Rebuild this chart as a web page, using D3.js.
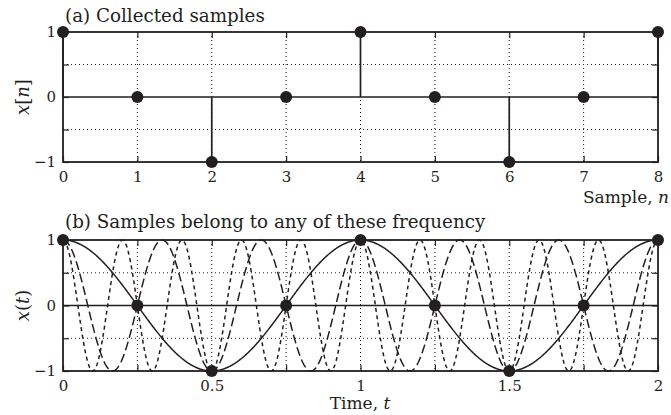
<!DOCTYPE html>
<html>
<head>
<meta charset="utf-8">
<script src="https://cdn.jsdelivr.net/npm/d3@7"></script>
<style>
  html, body { margin: 0; padding: 0; background: #fff; }
  svg { display: block; }
  text { font-family: "DejaVu Serif", "Liberation Serif", serif; fill: #231f20; }
</style>
</head>
<body>
<svg id="chart" width="671" height="415"></svg>
<script>
// Discrete samples x[n] taken at Ts = 0.25 s
const sampleIndex = [0, 1, 2, 3, 4, 5, 6, 7, 8];
const sampleValues = [1, 0, -1, 0, 1, 0, -1, 0, 1];
const sampleTimes = [0, 0.25, 0.5, 0.75, 1, 1.25, 1.5, 1.75, 2];

// Cosines (Hz) that all pass through the same samples, and their line styles
const frequencies = [1, 3, 5];
const dashStyles = [null, "9,4", "4,3.5"];

// Tick values and labels
const topXTicks = [0, 1, 2, 3, 4, 5, 6, 7, 8];
const yTicks = [-1, -0.5, 0, 0.5, 1];
const yTickLabels = { "-1": "\u22121", "0": "0", "1": "1" };
const bottomXTicks = [0, 0.25, 0.5, 0.75, 1, 1.25, 1.5, 1.75, 2];
const bottomXTickLabels = { "0": "0", "0.5": "0.5", "1": "1", "1.5": "1.5", "2": "2" };

const ink = "#231f20";
const svg = d3.select("#chart");
const tickFont = 15;
const titleFont = 18.3;
const labelFont = 18;

function panel(opts) {
  const { x, y, xTicks, xLabelFn, title, titleY } = opts;
  const g = svg.append("g");
  const [x0, x1] = x.range();
  const [yb, yt] = y.range();

  // dotted grid
  g.append("g").selectAll("line")
    .data(xTicks.filter(t => t !== x.domain()[0] && t !== x.domain()[1]))
    .join("line")
    .attr("x1", d => x(d)).attr("x2", d => x(d))
    .attr("y1", yt).attr("y2", yb)
    .attr("stroke", ink).attr("stroke-width", 1)
    .attr("stroke-dasharray", "1,3");
  g.append("g").selectAll("line")
    .data([-0.5, 0.5])
    .join("line")
    .attr("x1", x0).attr("x2", x1)
    .attr("y1", d => y(d)).attr("y2", d => y(d))
    .attr("stroke", ink).attr("stroke-width", 1)
    .attr("stroke-dasharray", "1,3");

  // zero baseline
  g.append("line")
    .attr("x1", x0).attr("x2", x1)
    .attr("y1", y(0)).attr("y2", y(0))
    .attr("stroke", ink).attr("stroke-width", 1.6);

  // axes with inward ticks on all four sides
  const fmtY = d => yTickLabels[String(d)] || "";
  const axB = g.append("g").attr("transform", `translate(0,${yb})`)
    .call(d3.axisBottom(x).tickValues(xTicks).tickFormat(xLabelFn)
      .tickSizeInner(-6).tickSizeOuter(0).tickPadding(9));
  const axT = g.append("g").attr("transform", `translate(0,${yt})`)
    .call(d3.axisTop(x).tickValues(xTicks).tickFormat("")
      .tickSizeInner(-6).tickSizeOuter(0));
  const axL = g.append("g").attr("transform", `translate(${x0},0)`)
    .call(d3.axisLeft(y).tickValues(yTicks).tickFormat(fmtY)
      .tickSizeInner(-6).tickSizeOuter(0).tickPadding(7));
  const axR = g.append("g").attr("transform", `translate(${x1},0)`)
    .call(d3.axisRight(y).tickValues(yTicks).tickFormat("")
      .tickSizeInner(-6).tickSizeOuter(0));
  [axB, axT, axL, axR].forEach(a => {
    a.select(".domain").remove();
    a.selectAll(".tick line").attr("stroke", ink).attr("stroke-width", 1.2);
    a.selectAll("text").attr("font-size", tickFont)
      .attr("font-family", "DejaVu Serif, serif").attr("fill", ink);
  });

  // box
  g.append("rect")
    .attr("x", x0).attr("y", yt)
    .attr("width", x1 - x0).attr("height", yb - yt)
    .attr("fill", "none").attr("stroke", ink).attr("stroke-width", 1.8);

  // title
  g.append("text").attr("x", x0 + 2).attr("y", titleY)
    .attr("font-size", titleFont).text(title);
  return g;
}

// ---------- (a) collected samples ----------
const xa = d3.scaleLinear().domain([0, 8]).range([63, 658]);
const ya = d3.scaleLinear().domain([-1, 1]).range([162, 32]);
const ga = panel({
  x: xa, y: ya, xTicks: topXTicks, xLabelFn: d => String(d),
  title: "(a) Collected samples", titleY: 22
});
const samplesA = sampleIndex.map((n, i) => ({ n, v: sampleValues[i] }));
ga.append("g").selectAll("line")
  .data(samplesA)
  .join("line")
  .attr("x1", d => xa(d.n)).attr("x2", d => xa(d.n))
  .attr("y1", ya(0)).attr("y2", d => ya(d.v))
  .attr("stroke", ink).attr("stroke-width", 1.7);
ga.append("g").selectAll("circle")
  .data(samplesA)
  .join("circle")
  .attr("cx", d => xa(d.n)).attr("cy", d => ya(d.v))
  .attr("r", 6).attr("fill", ink);

// y label x[n]
const yla = svg.append("text")
  .attr("transform", `translate(29,${ya(0)}) rotate(-90)`)
  .attr("text-anchor", "middle").attr("font-size", labelFont);
yla.append("tspan").attr("font-style", "italic").text("x");
yla.append("tspan").text("[");
yla.append("tspan").attr("font-style", "italic").text("n");
yla.append("tspan").text("]");

// x label, flush with the right edge
const xla = svg.append("text").attr("x", 669).attr("y", 203)
  .attr("text-anchor", "end").attr("font-size", 17);
xla.append("tspan").text("Sample, ");
xla.append("tspan").attr("font-style", "italic").text("n");

// ---------- (b) continuous cosines ----------
const xb = d3.scaleLinear().domain([0, 2]).range([63, 658]);
const yb = d3.scaleLinear().domain([-1, 1]).range([371, 240]);
const gb = panel({
  x: xb, y: yb, xTicks: bottomXTicks,
  xLabelFn: d => bottomXTickLabels[String(d)] || "",
  title: "(b) Samples belong to any of these frequency", titleY: 228
});

const tGrid = d3.range(0, 2.0005, 0.002);
const line = d3.line().x(d => xb(d[0])).y(d => yb(d[1]));
frequencies.forEach((f, i) => {
  const pts = tGrid.map(t => [t, Math.cos(2 * Math.PI * f * t)]);
  gb.append("path")
    .attr("d", line(pts))
    .attr("fill", "none").attr("stroke", ink).attr("stroke-width", 1.5)
    .attr("stroke-dasharray", dashStyles[i]);
});

const samplesB = sampleTimes.map((t, i) => ({ t, v: sampleValues[i] }));
gb.append("g").selectAll("circle")
  .data(samplesB)
  .join("circle")
  .attr("cx", d => xb(d.t)).attr("cy", d => yb(d.v))
  .attr("r", 6).attr("fill", ink);

// y label x(t)
const ylb = svg.append("text")
  .attr("transform", `translate(29,${yb(0)}) rotate(-90)`)
  .attr("text-anchor", "middle").attr("font-size", labelFont);
ylb.append("tspan").attr("font-style", "italic").text("x");
ylb.append("tspan").text("(");
ylb.append("tspan").attr("font-style", "italic").text("t");
ylb.append("tspan").text(")");

// x label
const xlb = svg.append("text").attr("x", 360).attr("y", 409)
  .attr("text-anchor", "middle").attr("font-size", 17);
xlb.append("tspan").text("Time, ");
xlb.append("tspan").attr("font-style", "italic").text("t");
</script>
</body>
</html>
